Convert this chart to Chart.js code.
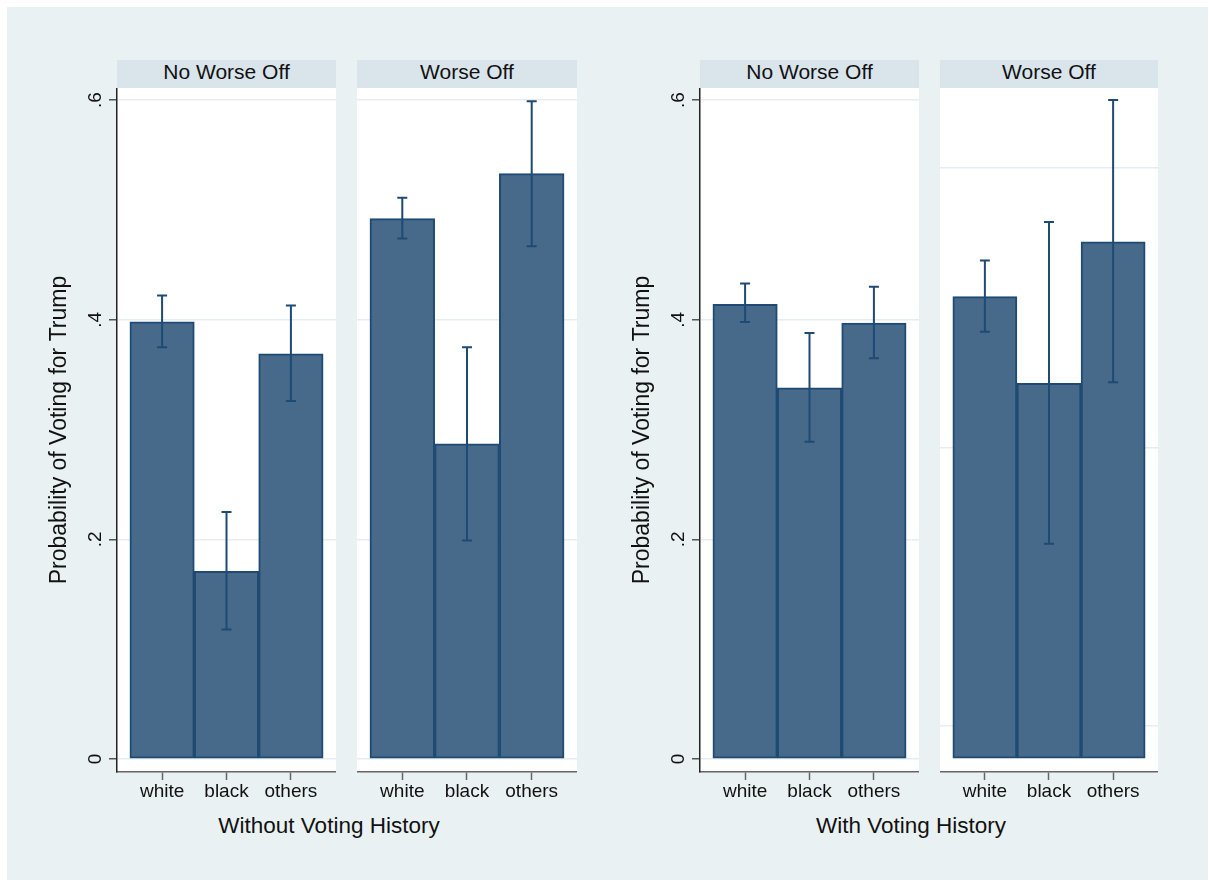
<!DOCTYPE html>
<html>
<head>
<meta charset="utf-8">
<script src="https://cdn.jsdelivr.net/npm/chart.js@4.4.1/dist/chart.umd.min.js"></script>
<style>
body{margin:0;background:#fff;font-family:"Liberation Sans",Arial,Helvetica,sans-serif;color:#111}
#bg{position:absolute;left:7px;top:7px;width:1201px;height:873px;background:#eaf1f3}
.strip{position:absolute;top:60px;height:28px;background:#d9e5eb;font-size:21px;line-height:23px;text-align:center}
.gtitle{position:absolute;top:813px;width:400px;font-size:22.5px;line-height:26px;text-align:center}
canvas{position:absolute;top:88px}
</style>
</head>
<body>
<div id="bg"></div>

<div class="strip" style="left:117px;width:219px">No Worse Off</div>
<div class="strip" style="left:357px;width:220px">Worse Off</div>
<div class="strip" style="left:700px;width:219px">No Worse Off</div>
<div class="strip" style="left:940px;width:218px">Worse Off</div>

<canvas id="p1" width="306" height="722" style="left:30px"></canvas>
<canvas id="p2" width="220" height="722" style="left:357px"></canvas>
<canvas id="p3" width="306" height="722" style="left:613px"></canvas>
<canvas id="p4" width="218" height="722" style="left:940px"></canvas>

<div class="gtitle" style="left:129px">Without Voting History</div>
<div class="gtitle" style="left:711px">With Voting History</div>

<script>
// data
const categories = ['white', 'black', 'others'];
const yTicks = [0, 0.2, 0.4, 0.6];
const yTickLabels = ['0', '.2', '.4', '.6'];

// without voting history
const noWorseOff1 = [0.398, 0.171, 0.369];
const noWorseOff1Lo = [0.375, 0.118, 0.326];
const noWorseOff1Hi = [0.422, 0.225, 0.413];
const worseOff1 = [0.492, 0.287, 0.533];
const worseOff1Lo = [0.474, 0.199, 0.467];
const worseOff1Hi = [0.511, 0.375, 0.599];

// with voting history
const noWorseOff2 = [0.414, 0.338, 0.397];
const noWorseOff2Lo = [0.398, 0.289, 0.365];
const noWorseOff2Hi = [0.433, 0.388, 0.430];
const worseOff2 = [0.421, 0.342, 0.471];
const worseOff2Lo = [0.389, 0.196, 0.343];
const worseOff2Hi = [0.454, 0.489, 0.600];

// odd grid of the last panel
const oddGrid = [0.030, 0.283, 0.538];

Chart.defaults.font.family = '"Liberation Sans", Arial, Helvetica, sans-serif';
Chart.defaults.color = '#111';

const barFill = '#476a8b';
const barLine = '#1f4a73';
const gridCol = '#e6eef1';

const panelBg = {
	id: 'panelBg',
	beforeDraw(chart){
		const a = chart.chartArea, c = chart.ctx;
		c.save();
		c.fillStyle = '#fff';
		c.fillRect(a.left, a.top, a.right - a.left, a.bottom - a.top);
		c.restore();
	}
};

const errBars = {
	id: 'errBars',
	afterDatasetsDraw(chart){
		const o = chart.options.plugins.errBars;
		const meta = chart.getDatasetMeta(0);
		const y = chart.scales.y, c = chart.ctx;
		c.save();
		c.strokeStyle = barLine;
		c.lineWidth = 2;
		meta.data.forEach((bar, i) => {
			const x = bar.x;
			const y1 = y.getPixelForValue(o.lo[i]);
			const y2 = y.getPixelForValue(o.hi[i]);
			c.beginPath();
			c.moveTo(x, y1); c.lineTo(x, y2);
			c.moveTo(x - 5, y1); c.lineTo(x + 5, y1);
			c.moveTo(x - 5, y2); c.lineTo(x + 5, y2);
			c.stroke();
		});
		c.restore();
	}
};

const rotLabels = {
	id: 'rotLabels',
	afterDraw(chart){
		if (!chart.options.plugins.rotLabels.show) return;
		const y = chart.scales.y, c = chart.ctx;
		c.save();
		c.font = '19px "Liberation Sans", Arial, sans-serif';
		c.fillStyle = '#111';
		c.textAlign = 'center';
		c.textBaseline = 'middle';
		yTicks.forEach((v, i) => {
			c.save();
			c.translate(y.right - 21, y.getPixelForValue(v));
			c.rotate(-Math.PI / 2);
			c.fillText(yTickLabels[i], 0, 0);
			c.restore();
		});
		c.restore();
	}
};

function makePanel(id, values, lo, hi, showY, odd){
	const scales = {
		x: {
			type: 'linear', min: -0.7, max: 2.7, offset: false,
			afterBuildTicks: s => { s.ticks = [0, 1, 2].map(v => ({value: v})); },
			afterFit: s => { s.height = 38; },
			ticks: {callback: v => categories[v], font: {size: 19}, padding: 0, color: '#111'},
			grid: {offset: false, drawOnChartArea: false, drawTicks: true, tickLength: 8, tickColor: '#666', tickWidth: 1.5},
			border: {display: true, color: '#666', width: 1.5}
		},
		y: {
			min: -0.0118, max: 0.611,
			afterBuildTicks: s => { s.ticks = yTicks.map(v => ({value: v})); },
			afterFit: s => { s.width = showY ? 87 : 0; },
			ticks: {display: false},
			grid: {color: gridCol, lineWidth: 1.5, drawOnChartArea: !odd, drawTicks: showY, tickLength: 8, tickColor: '#555', tickWidth: 1.5},
			border: {display: showY, color: '#222', width: 1.5},
			title: {display: showY, text: 'Probability of Voting for Trump', font: {size: 23}, color: '#111', padding: {top: 16, bottom: 0}}
		}
	};
	if (odd) {
		scales.yg = {
			position: 'left', min: -0.0118, max: 0.611,
			afterBuildTicks: s => { s.ticks = oddGrid.map(v => ({value: v})); },
			afterFit: s => { s.width = 0; },
			ticks: {display: false},
			grid: {color: gridCol, lineWidth: 1.5, drawTicks: false},
			border: {display: false}
		};
	}
	return new Chart(document.getElementById(id), {
		type: 'bar',
		data: {
			datasets: [{
				data: values.map((v, i) => ({x: i, y: v})),
				backgroundColor: barFill,
				borderColor: barLine,
				borderWidth: 2,
				borderSkipped: false,
				barPercentage: 1,
				categoryPercentage: 1
			}]
		},
		options: {
			responsive: false,
			animation: false,
			layout: {padding: 0},
			plugins: {
				legend: {display: false},
				tooltip: {enabled: false},
				errBars: {lo: lo, hi: hi},
				rotLabels: {show: showY}
			},
			scales: scales
		},
		plugins: [panelBg, errBars, rotLabels]
	});
}

makePanel('p1', noWorseOff1, noWorseOff1Lo, noWorseOff1Hi, true, false);
makePanel('p2', worseOff1, worseOff1Lo, worseOff1Hi, false, false);
makePanel('p3', noWorseOff2, noWorseOff2Lo, noWorseOff2Hi, true, false);
makePanel('p4', worseOff2, worseOff2Lo, worseOff2Hi, false, true);
</script>
</body>
</html>
